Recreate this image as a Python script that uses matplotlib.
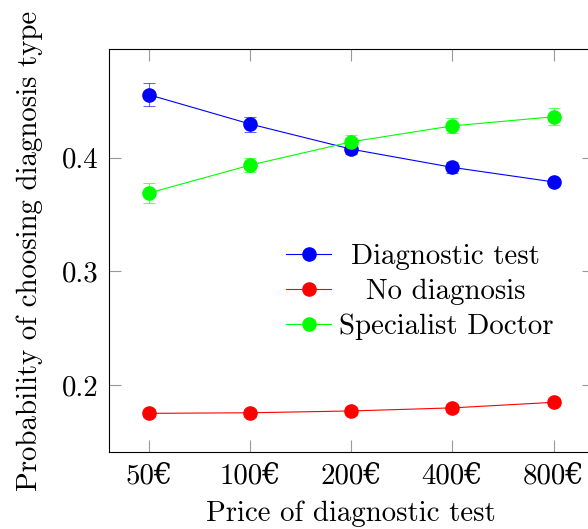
import matplotlib
matplotlib.use("Agg")
import matplotlib.pyplot as plt

plt.rcParams['font.family'] = ['cmr10', 'DejaVu Serif']
plt.rcParams['axes.formatter.use_mathtext'] = True
plt.rcParams['mathtext.fontset'] = 'cm'

# datos
precios = ['50€', '100€', '200€', '400€', '800€']
series = ['Diagnostic test', 'No diagnosis', 'Specialist Doctor']
colores = ['#0000ff', '#ff0000', '#00ff00']

diag_test = [0.4553, 0.4296, 0.4075, 0.3915, 0.3787]
diag_test_err = [0.0100, 0.0066, 0.0045, 0.0050, 0.0020]
no_diag = [0.1752, 0.1757, 0.1773, 0.1800, 0.1849]
no_diag_err = [0.0035, 0.0035, 0.0035, 0.0035, 0.0030]
specialist = [0.3690, 0.3935, 0.4140, 0.4280, 0.4360]
specialist_err = [0.0085, 0.0063, 0.0060, 0.0066, 0.0075]

valores = [diag_test, no_diag, specialist]
errores = [diag_test_err, no_diag_err, specialist_err]

FS = 20.8

fig = plt.figure(figsize=(5.88, 5.29), dpi=100)
ax = fig.add_axes([108.7 / 588, 77 / 529, (594 - 108.7) / 588, (452 - 49) / 529])

x = list(range(len(precios)))
handles = []
for vals, errs, col, nombre in zip(valores, errores, colores, series):
    cont = ax.errorbar(x, vals, yerr=errs, fmt='-o', color=col, markersize=9.5,
                       linewidth=0.8, elinewidth=0.8, capsize=4.5, capthick=0.8,
                       label=nombre, zorder=3)
    for c in cont[1]:
        c.set_alpha(0.6)
    for c in cont[2]:
        c.set_alpha(0.6)
    handles.append(cont[0])

ax.set_xlim(-0.4, 4.4)
ax.set_ylim(0.1412, 0.4956)
ax.set_xticks(x)
ax.set_xticklabels(precios)
ax.set_yticks([0.2, 0.3, 0.4])
ax.set_yticklabels(['0.2', '0.3', '0.4'])

ax.tick_params(direction='in', length=8.3, width=0.8, color='#999999',
               top=True, right=True, labelsize=FS)
ax.tick_params(axis='y', pad=7)
ax.tick_params(axis='x', pad=8)
for s in ax.spines.values():
    s.set_linewidth(0.8)

ax.set_xlabel('Price of diagnostic test', fontsize=FS, labelpad=8)
ax.set_ylabel('Probability of choosing diagnosis type', fontsize=FS, labelpad=14)

leg = ax.legend(handles, series, frameon=False, loc='center',
                bbox_to_anchor=(0.641, 0.397), fontsize=FS, numpoints=1,
                handlelength=1.56, handletextpad=0.25, labelspacing=0.3,
                borderpad=0)

# centrar los textos de la leyenda como en pgfplots
fig.canvas.draw()
textos = leg.get_texts()
anchos = [t.get_window_extent().width for t in textos]
w_max = max(anchos)
for t, w in zip(textos, anchos):
    t.set_x((w_max - w) / 2)

fig.savefig('out.png', dpi=100)
